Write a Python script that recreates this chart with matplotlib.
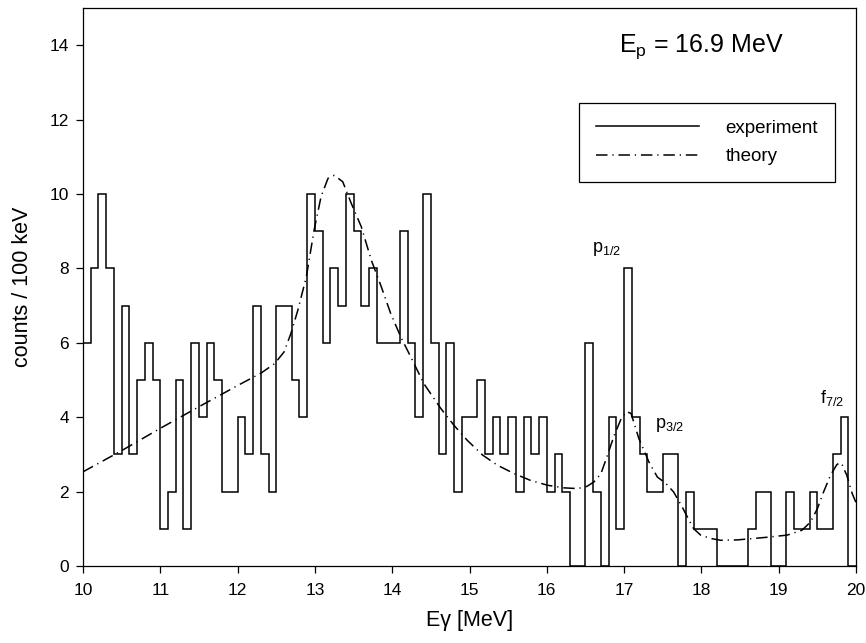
import numpy as np
import matplotlib
matplotlib.use("Agg")
from matplotlib import pyplot as plt

plt.rcParams['font.family'] = ['Liberation Sans', 'DejaVu Sans']
plt.rcParams['mathtext.fontset'] = 'custom'
plt.rcParams['mathtext.rm'] = 'Liberation Sans'
plt.rcParams['mathtext.it'] = 'Liberation Sans:italic'

# measured spectrum, 100 keV bins starting at 9.9 MeV
bin_start = 9.9
bin_width = 0.1
counts = [11,
          6, 8, 10, 8, 3, 7, 3, 5, 6, 5,
          1, 2, 5, 1, 6, 4, 6, 5, 2, 2,
          4, 3, 7, 3, 2, 7, 7, 5, 4, 10,
          9, 6, 8, 7, 10, 9, 7, 8, 6, 6,
          6, 9, 6, 4, 10, 6, 3, 6, 2, 4,
          4, 5, 3, 4, 3, 4, 2, 4, 3, 4,
          2, 3, 2, 0, 0, 6, 2, 0, 4, 1,
          8, 4, 3, 2, 2, 3, 3, 0, 2, 1,
          1, 1, 0, 0, 0, 0, 1, 2, 2, 0,
          0, 2, 1, 1, 2, 1, 1, 3, 4, 0]

# theory curve
theory_e = [10.0, 10.5, 11.0, 11.5, 12.0, 12.3, 12.48, 12.6, 12.69, 12.78,
            12.89, 12.99, 13.08, 13.17, 13.25, 13.36, 13.47, 13.6, 13.73, 13.86,
            13.98, 14.11, 14.24, 14.41, 14.63, 14.8, 14.97, 15.17, 15.36, 15.58,
            15.79, 16.01, 16.22, 16.4, 16.52, 16.61, 16.7, 16.78, 16.87, 16.96,
            17.03, 17.09, 17.19, 17.32, 17.43, 17.54, 17.64, 17.75, 17.84, 17.9,
            17.99, 18.12, 18.25, 18.46, 18.68, 18.89, 19.11, 19.3, 19.41, 19.5,
            19.58, 19.67, 19.75, 19.79, 19.82, 19.88, 19.95, 20.0]
theory_c = [2.53, 3.1, 3.7, 4.28, 4.85, 5.18, 5.44, 5.75, 6.25, 6.88,
            7.78, 9.03, 9.93, 10.42, 10.5, 10.33, 9.75, 9.12, 8.22, 7.5,
            6.79, 6.16, 5.62, 4.9, 4.23, 3.78, 3.38, 2.98, 2.71, 2.48,
            2.3, 2.17, 2.1, 2.08, 2.14, 2.26, 2.48, 2.95, 3.5, 3.95,
            4.15, 4.1, 3.43, 2.8, 2.39, 2.22, 1.99, 1.59, 1.23, 1.0,
            0.83, 0.74, 0.69, 0.7, 0.74, 0.78, 0.83, 0.96, 1.18, 1.54,
            1.99, 2.44, 2.72, 2.78, 2.72, 2.44, 1.95, 1.7]

edges = bin_start + bin_width * np.arange(len(counts) + 1)

fig = plt.figure(figsize=(8.66, 6.43), dpi=100)
ax = fig.add_axes([0.0958, 0.1198, 0.8927, 0.8678])

ax.stairs(counts, edges, color='black', linewidth=1.1, label='experiment')
th, = ax.plot(theory_e, theory_c, color='black', linewidth=1.1, label='theory')
th.set_dashes([7.5, 3.2, 0.8, 3.2])

ax.set_xlim(10, 20)
ax.set_ylim(0, 15)
ax.set_xticks(np.arange(10, 21, 1))
ax.set_yticks(np.arange(0, 15, 2))
ax.tick_params(direction='out', length=5, width=0.9, labelsize=12.5, pad=5)
ax.tick_params(axis='x', pad=7)
for s in ax.spines.values():
    s.set_linewidth(0.9)

ax.set_xlabel('Eγ [MeV]', fontsize=15.5, labelpad=9)
ax.set_ylabel('counts / 100 keV', fontsize=15.5, labelpad=12)

ax.text(0.694, 0.93, r'E$_\mathrm{p}$ = 16.9 MeV', transform=ax.transAxes,
        fontsize=18, ha='left', va='center')

ax.text(16.58, 8.45, r'p$_\mathrm{1/2}$', fontsize=13, ha='left', va='baseline')
ax.text(17.40, 3.70, r'p$_\mathrm{3/2}$', fontsize=13, ha='left', va='baseline')
ax.text(19.54, 4.37, r'f$_\mathrm{7/2}$', fontsize=13, ha='left', va='baseline')

leg = ax.legend(loc='upper right', bbox_to_anchor=(0.9728, 0.8297),
                fancybox=False, edgecolor='black', framealpha=1,
                fontsize=13.5, handlelength=5.5, handletextpad=1.4,
                labelspacing=0.6, borderpad=0.9, borderaxespad=0)
leg.get_frame().set_linewidth(0.9)

fig.savefig('out.png', dpi=100)
